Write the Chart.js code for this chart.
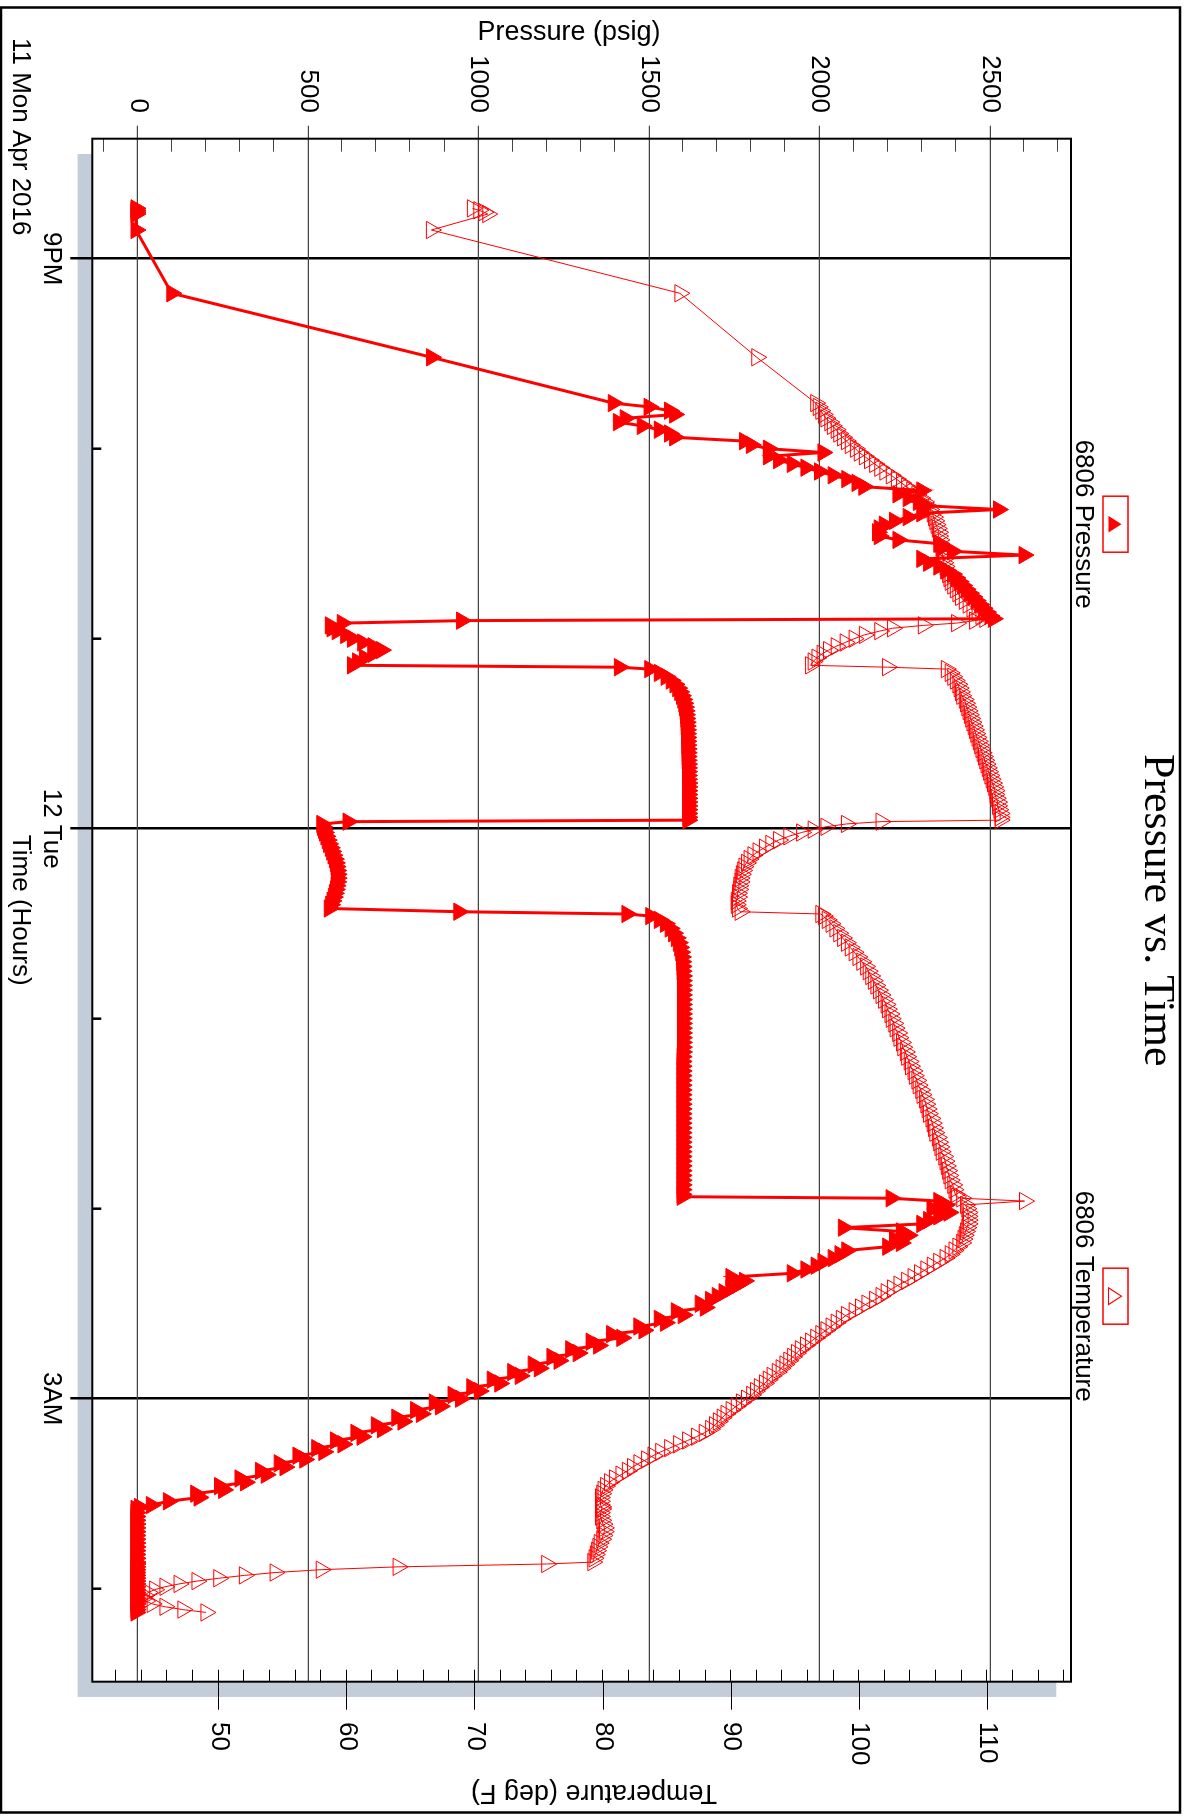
<!DOCTYPE html>
<html>
<head>
<meta charset="utf-8">
<script src="https://cdn.jsdelivr.net/npm/chart.js@4"></script>
<style>
html,body{margin:0;padding:0;background:#fff;overflow:hidden;width:1199px;height:1818px;}
#wrap{position:absolute;left:0;top:0;width:1818px;height:1199px;transform-origin:0 0;transform:translate(1199px,0) rotate(90deg);}
canvas{display:block;}
</style>
</head>
<body>
<div id="wrap"><canvas id="c" width="1818" height="1199"></canvas></div>
<script>
// ---------------- DATA (time in hours after midnight of Mon 11 Apr 2016; 24 = 12 Tue) ----------------
const timeHours = [
  // early readings
  20.735, 20.745, 20.755, 20.765, 20.849, 21.182, 21.519,
  // rise
  21.76, 21.78, 21.80, 21.82, 21.84, 21.86, 21.88, 21.90, 21.92, 21.94,
  21.96, 21.98, 22.00, 22.02, 22.04, 22.06, 22.08, 22.10, 22.12, 22.14,
  22.16, 22.18, 22.20, 22.22, 22.24, 22.26, 22.28, 22.30, 22.32, 22.34,
  22.36, 22.38, 22.40, 22.42, 22.44, 22.46, 22.48, 22.50, 22.52, 22.54,
  22.56, 22.58, 22.60, 22.62, 22.64, 22.66, 22.68, 22.70, 22.72, 22.74,
  22.76, 22.78, 22.80, 22.82, 22.84, 22.86, 22.88, 22.895,
  // first drop
  22.905, 22.918, 22.93, 22.945, 22.96, 22.98, 23.00, 23.02, 23.04, 23.06, 23.08, 23.10, 23.12, 23.14, 23.15,
  // first plateau
  23.16, 23.18, 23.20, 23.22, 23.24, 23.26, 23.28, 23.30, 23.32, 23.34,
  23.36, 23.38, 23.40, 23.42, 23.44, 23.46, 23.48, 23.50, 23.52, 23.54,
  23.56, 23.58, 23.60, 23.62, 23.64, 23.66, 23.68, 23.70, 23.72, 23.74,
  23.76, 23.78, 23.80, 23.82, 23.84, 23.86, 23.88, 23.90, 23.92, 23.94,
  23.955,
  // second drop
  23.963, 23.975, 23.99, 24.005, 24.02, 24.04, 24.06, 24.08, 24.10, 24.12,
  24.14, 24.16, 24.18, 24.20, 24.22, 24.24, 24.26, 24.28, 24.30, 24.32,
  24.34, 24.36, 24.38, 24.40, 24.42, 24.437, 24.449,
  // second plateau
  24.46, 24.48, 24.50, 24.525, 24.55, 24.575, 24.60, 24.625, 24.65, 24.675,
  24.70, 24.725, 24.75, 24.775, 24.80, 24.825, 24.85, 24.875, 24.90, 24.925,
  24.95, 24.975, 25.00, 25.025, 25.05, 25.075, 25.10, 25.125, 25.15, 25.175,
  25.20, 25.225, 25.25, 25.275, 25.30, 25.325, 25.35, 25.375, 25.40, 25.425,
  25.45, 25.475, 25.50, 25.525, 25.55, 25.575, 25.60, 25.625, 25.65, 25.675,
  25.70, 25.725, 25.75, 25.775, 25.80, 25.825, 25.85, 25.875, 25.90, 25.925,
  25.937,
  // bleed down
  25.945, 25.96, 25.98, 26.00, 26.02, 26.04, 26.06, 26.08, 26.10, 26.12,
  26.14, 26.16, 26.18, 26.20, 26.22, 26.24, 26.26, 26.28, 26.30, 26.32,
  26.34, 26.36, 26.38, 26.40, 26.42, 26.44, 26.46, 26.48, 26.50, 26.52,
  26.54, 26.56, 26.58, 26.60, 26.62, 26.64, 26.66, 26.68, 26.70, 26.72,
  26.74, 26.76, 26.78, 26.80, 26.82, 26.84, 26.86, 26.88, 26.90, 26.92,
  26.94, 26.96, 26.98, 27.00, 27.02, 27.04, 27.06, 27.08, 27.10, 27.12,
  27.14, 27.16, 27.18, 27.20, 27.22, 27.24, 27.26, 27.28, 27.30, 27.32,
  27.34, 27.36, 27.38, 27.40, 27.42, 27.44, 27.46, 27.48, 27.50, 27.52,
  27.54, 27.56, 27.57,
  // empty
  27.58, 27.60, 27.62, 27.64, 27.66, 27.68, 27.70, 27.72, 27.74, 27.76,
  27.78, 27.80, 27.82, 27.84, 27.86, 27.87, 27.885, 27.90, 27.915, 27.93,
  27.945, 27.96, 27.975, 27.99, 28.005, 28.02, 28.035, 28.05, 28.065, 28.08,
  28.095, 28.11, 28.125
];

const pressurePsig = [
  -5, -5, -5, -5, -5, 100, 862,
  1395, 1500, 1560, 1575, 1430, 1410, 1480, 1530, 1560, 1575,
  1780, 1800, 1850, 2010, 1850, 1880, 1920, 1960, 2000, 2040,
  2080, 2110, 2130, 2300, 2230, 2260, 2290, 2310, 2525, 2300,
  2260, 2220, 2190, 2175, 2170, 2175, 2230, 2350, 2360, 2390,
  2600, 2300, 2320, 2350, 2370, 2390, 2400, 2410, 2420, 2430,
  2440, 2450, 2460, 2470, 2480, 2490, 2500, 2510,
  950, 600, 565, 570, 585, 610, 630, 660, 690, 715, 690, 665, 645, 630, 1413,
  1502, 1530, 1550, 1565, 1576, 1584, 1590, 1595, 1599, 1602,
  1604, 1606, 1607, 1608, 1609, 1609, 1610, 1610, 1611, 1611,
  1611, 1612, 1612, 1612, 1612, 1613, 1613, 1613, 1613, 1613,
  1614, 1614, 1614, 1614, 1614, 1614, 1614, 1614, 1614, 1614,
  1614,
  617, 540, 542, 545, 548, 552, 556, 560, 565, 569,
  573, 577, 580, 582, 584, 585, 585, 584, 582, 580,
  577, 574, 570, 566, 562, 942, 1435,
  1505, 1530, 1548, 1562, 1572, 1580, 1586, 1590, 1593, 1595,
  1596, 1597, 1597, 1598, 1598, 1598, 1598, 1598, 1598, 1598,
  1598, 1598, 1598, 1598, 1598, 1598, 1598, 1598, 1598, 1598,
  1597, 1597, 1597, 1597, 1597, 1597, 1597, 1597, 1597, 1597,
  1597, 1597, 1597, 1597, 1597, 1597, 1597, 1597, 1597, 1597,
  1597, 1597, 1597, 1597, 1597, 1597, 1597, 1597, 1597, 1597,
  1597,
  2210, 2350, 2370, 2330, 2380, 2350, 2320, 2300, 2070, 2240,
  2260, 2220, 2240, 2200, 2080, 2060, 2040, 2010, 1990, 1960,
  1920, 1740, 1780, 1760, 1740, 1720, 1700, 1680, 1650, 1665,
  1580, 1600, 1530, 1548, 1470, 1485, 1390, 1420, 1330, 1352,
  1270, 1292, 1215, 1236, 1160, 1178, 1100, 1122, 1040, 1062,
  980, 1002, 925, 947, 870, 888, 815, 832, 760, 778,
  700, 718, 640, 658, 580, 602, 525, 546, 470, 490,
  415, 432, 360, 377, 300, 316, 240, 252, 170, 180,
  90, 40, 5,
  -5, -5, -5, -5, -5, -5, -5, -5, -5, -5,
  -5, -5, -5, -5, -5, -5, -5, -5, -5, -5,
  -5, -5, -5, -5, -5, -5, -5, -5, -5, -5,
  -5, -5, -5
];

const temperatureF = [
  69.8, 70.3, 70.7, 71.0, 66.6, 86.0, 92.0,
  96.6, 96.8, 97.0, 97.2, 97.4, 97.7, 97.9, 98.2, 98.4, 98.7,
  99.0, 99.3, 99.7, 100.0, 100.4, 100.8, 101.2, 101.6, 102.0, 102.5,
  102.9, 103.3, 103.7, 104.1, 104.5, 104.8, 105.1, 105.3, 105.5, 105.7,
  105.8, 105.9, 106.0, 106.1, 106.2, 106.2, 106.3, 106.3, 106.4, 106.4,
  106.5, 106.6, 106.6, 106.7, 106.8, 106.9, 107.0, 107.1, 107.3, 107.5,
  107.7, 107.9, 108.2, 108.5, 108.8, 109.2, 109.5, 109.8,
  109.0, 107.6, 105.0, 102.6, 101.6, 100.4, 99.6, 98.9, 98.2, 97.6, 97.1, 96.7, 96.4, 96.2, 102.2,
  106.8, 107.1, 107.3, 107.5, 107.7, 107.8, 107.9, 108.0, 108.2, 108.3,
  108.4, 108.5, 108.6, 108.7, 108.8, 108.9, 109.0, 109.1, 109.2, 109.3,
  109.4, 109.5, 109.6, 109.7, 109.8, 109.9, 110.0, 110.1, 110.2, 110.3,
  110.4, 110.5, 110.6, 110.6, 110.7, 110.8, 110.8, 110.9, 111.0, 111.0,
  111.0,
  101.7, 99.0, 97.4, 96.4, 95.5, 94.5, 93.7, 93.1, 92.6, 92.1,
  91.7, 91.4, 91.2, 91.0, 90.9, 90.8, 90.7, 90.7, 90.6, 90.6,
  90.5, 90.5, 90.4, 90.4, 90.5, 90.7, 97.0,
  97.2, 97.5, 97.8, 98.1, 98.4, 98.7, 99.0, 99.3, 99.6, 99.9,
  100.2, 100.5, 100.7, 100.9, 101.1, 101.3, 101.5, 101.7, 101.9, 102.1,
  102.2, 102.4, 102.5, 102.7, 102.8, 103.0, 103.1, 103.3, 103.4, 103.6,
  103.7, 103.9, 104.0, 104.2, 104.3, 104.5, 104.6, 104.8, 104.9, 105.1,
  105.2, 105.3, 105.4, 105.6, 105.7, 105.8, 105.9, 106.1, 106.2, 106.3,
  106.4, 106.6, 106.7, 106.8, 106.9, 107.0, 107.1, 107.3, 107.4, 107.5,
  107.6,
  108.0, 112.9, 108.3, 108.4, 108.5, 108.5, 108.5, 108.5, 108.4, 108.3,
  108.2, 108.1, 108.0, 107.7, 107.4, 107.1, 106.7, 106.2, 105.7, 105.2,
  104.7, 104.2, 103.7, 103.1, 102.6, 102.1, 101.7, 101.2, 100.6, 100.1,
  99.6, 99.0, 98.6, 98.2, 97.8, 97.4, 97.0, 96.6, 96.2, 95.8,
  95.4, 95.1, 94.8, 94.5, 94.2, 93.9, 93.6, 93.2, 92.9, 92.6,
  92.2, 91.9, 91.6, 91.2, 90.8, 90.4, 90.0, 89.6, 89.3, 89.0,
  88.7, 88.4, 87.9, 87.3, 86.6, 85.9, 85.2, 84.5, 83.9, 83.4,
  82.8, 82.3, 81.9, 81.4, 80.9, 80.5, 80.2, 80.0, 79.9, 79.8,
  79.8, 79.8, 79.9,
  79.9, 79.8, 79.8, 79.9, 80.0, 80.1, 80.1, 80.0, 79.9, 79.7,
  79.6, 79.5, 79.4, 79.3, 79.2, 75.6, 64.0, 58.0, 54.4, 52.0,
  50.0, 48.3, 46.9, 45.8, 45.0, 44.5, 44.2, 44.1, 44.3, 44.8,
  45.8, 47.2, 49.0
];

const seriesNames = ['6806 Pressure', '6806 Temperature'];
const timeTicks = [21, 24, 27];
const timeTickLabels = ['9PM', '12 Tue', '3AM'];
const timeMinorTicks = [22, 23, 25, 26, 28];
const pressureTicks = [0, 500, 1000, 1500, 2000, 2500];
const pressureTickLabels = ['0', '500', '1000', '1500', '2000', '2500'];
const temperatureTicks = [50, 60, 70, 80, 90, 100, 110];
const temperatureTickLabels = ['50', '60', '70', '80', '90', '100', '110'];
const chartTitle = 'Pressure vs. Time';
const pressureAxisTitle = 'Pressure (psig)';
const temperatureAxisTitle = 'Temperature (deg F)';
const timeAxisTitle = 'Time (Hours)';
const dateLabel = '11 Mon Apr 2016';

if (timeHours.length !== pressurePsig.length || timeHours.length !== temperatureF.length) {
  console.error('length mismatch', timeHours.length, pressurePsig.length, temperatureF.length);
}

// ---------------- CHART ----------------
const SANS = '"Liberation Sans", Arial, Helvetica, sans-serif';
const SERIF = '"Liberation Serif", "Times New Roman", serif';
Chart.defaults.font.family = SANS;
Chart.defaults.color = '#000';

const RED = '#ff0000';

const decor = {
  id: 'decor',
  beforeDraw(chart) {
    const c = chart.ctx, a = chart.chartArea;
    c.save();
    c.fillStyle = '#fff';
    c.fillRect(0, 0, chart.width, chart.height);
    // outer frame
    c.strokeStyle = '#000';
    c.lineWidth = 2.5;
    c.strokeRect(7.5, 19, 1805, 1179);
    // drop shadow of plot box
    c.fillStyle = '#c2cdd9';
    c.fillRect(a.left + 15.3, a.top + 14.7, a.right - a.left, a.bottom - a.top);
    c.fillStyle = '#fff';
    c.fillRect(a.left, a.top, a.right - a.left, a.bottom - a.top);
    c.restore();
  },
  beforeDatasetsDraw(chart) {
    const c = chart.ctx, a = chart.chartArea;
    const xs = chart.scales.x, yp = chart.scales.yP, yt = chart.scales.yT;
    c.save();
    // pressure minor ticks (every 100 psig) inside left edge
    c.strokeStyle = '#444';
    c.lineWidth = 1;
    c.beginPath();
    for (let v = -100; v <= 2700; v += 100) {
      if (v % 500 === 0) continue;
      const y = Math.round(yp.getPixelForValue(v)) + 0.5;
      c.moveTo(a.left, y); c.lineTo(a.left + 13, y);
    }
    c.stroke();
    // temperature ticks (every 2 F) inside right edge
    c.strokeStyle = '#000';
    c.beginPath();
    for (let v = 42; v <= 116; v += 2) {
      const y = Math.round(yt.getPixelForValue(v)) + 0.5;
      c.moveTo(a.right - 12, y); c.lineTo(a.right, y);
    }
    c.stroke();
    // hourly minor time ticks inside bottom edge
    c.lineWidth = 2.5;
    c.beginPath();
    for (const h of timeMinorTicks) {
      const x = xs.getPixelForValue(h);
      c.moveTo(x, a.bottom); c.lineTo(x, a.bottom - 9);
    }
    c.stroke();
    // plot border
    c.lineWidth = 2;
    c.strokeRect(a.left, a.top, a.right - a.left, a.bottom - a.top);
    c.restore();
  },
  afterDraw(chart) {
    const c = chart.ctx, a = chart.chartArea;
    const cx = (a.left + a.right) / 2;
    c.save();
    c.fillStyle = '#000';
    c.textAlign = 'center';
    c.textBaseline = 'alphabetic';
    // title
    c.font = '44px ' + SERIF;
    c.fillText(chartTitle, cx, 54);
    // legend
    const items = [
      { label: seriesNames[0], u: cx - 386, filled: true },
      { label: seriesNames[1], u: cx + 386, filled: false }
    ];
    for (const it of items) {
      c.strokeStyle = RED;
      c.lineWidth = 1.5;
      c.strokeRect(it.u - 28, 71, 56, 25);
      c.beginPath();
      c.moveTo(it.u, 77.5);
      c.lineTo(it.u + 8.3, 90.5);
      c.lineTo(it.u - 8.3, 90.5);
      c.closePath();
      if (it.filled) { c.fillStyle = RED; c.fill(); }
      else { c.lineWidth = 1.2; c.stroke(); }
      c.fillStyle = '#000';
      c.font = '26px ' + SANS;
      c.fillText(it.label, it.u, 122.5);
    }
    // axis titles
    c.font = '27px ' + SANS;
    c.save();
    c.translate(39.5, 630);
    c.rotate(-Math.PI / 2);
    c.fillText(pressureAxisTitle, 0, 0);
    c.restore();
    c.save();
    c.translate(1785, 605);
    c.rotate(Math.PI / 2);
    c.fillText(temperatureAxisTitle, 0, 0);
    c.restore();
    c.font = '26px ' + SANS;
    c.fillText(timeAxisTitle, cx, 1186);
    c.fillText(dateLabel, a.left - 2, 1186);
    c.restore();
  }
};

const toPoints = (ys) => timeHours.map((t, i) => ({ x: t, y: ys[i] }));

new Chart(document.getElementById('c'), {
  type: 'line',
  data: {
    datasets: [
      {
        label: seriesNames[0],
        data: toPoints(pressurePsig),
        yAxisID: 'yP',
        borderColor: RED,
        borderWidth: 3,
        tension: 0,
        pointStyle: 'triangle',
        pointRadius: 10,
        pointBackgroundColor: RED,
        pointBorderColor: RED,
        pointBorderWidth: 1
      },
      {
        label: seriesNames[1],
        data: toPoints(temperatureF),
        yAxisID: 'yT',
        borderColor: RED,
        borderWidth: 1,
        tension: 0,
        pointStyle: 'triangle',
        pointRadius: 10,
        pointBackgroundColor: 'rgba(255,255,255,0)',
        pointBorderColor: RED,
        pointBorderWidth: 1
      }
    ]
  },
  options: {
    responsive: false,
    animation: false,
    devicePixelRatio: 1,
    events: [],
    layout: { padding: { left: 0, right: 0, top: 128, bottom: 0 } },
    plugins: { legend: { display: false }, title: { display: false }, tooltip: { enabled: false } },
    scales: {
      x: {
        type: 'linear',
        position: 'bottom',
        min: 20.3684,
        max: 28.4895,
        afterBuildTicks: (s) => { s.ticks = timeTicks.map(v => ({ value: v })); },
        afterFit: (s) => { s.height = 92.3; },
        ticks: {
          callback: (v) => { const i = timeTicks.indexOf(v); return i >= 0 ? timeTickLabels[i] : ''; },
          font: { size: 26 },
          color: '#000',
          padding: 4,
          maxRotation: 0,
          autoSkip: false
        },
        grid: { color: '#000', lineWidth: 2.5, tickLength: 22, drawOnChartArea: true },
        border: { display: false }
      },
      yP: {
        type: 'linear',
        position: 'left',
        min: -133.2,
        max: 2737.7,
        afterBuildTicks: (s) => { s.ticks = pressureTicks.map(v => ({ value: v })); },
        afterFit: (s) => { s.width = 138.7; },
        ticks: {
          callback: (v) => { const i = pressureTicks.indexOf(v); return i >= 0 ? pressureTickLabels[i] : ''; },
          font: { size: 26 },
          color: '#000',
          padding: 12.7
        },
        grid: { color: '#444', lineWidth: 1.2, tickLength: 13 },
        border: { display: false }
      },
      yT: {
        type: 'linear',
        position: 'right',
        min: 40.13,
        max: 116.53,
        afterBuildTicks: (s) => { s.ticks = temperatureTicks.map(v => ({ value: v })); },
        afterFit: (s) => { s.width = 136.3; },
        ticks: {
          callback: (v) => { const i = temperatureTicks.indexOf(v); return i >= 0 ? temperatureTickLabels[i] : ''; },
          font: { size: 26 },
          color: '#000',
          padding: 12.3
        },
        grid: { drawOnChartArea: false, color: '#000', lineWidth: 1, tickLength: 28 },
        border: { display: false }
      }
    }
  },
  plugins: [decor]
});
</script>
</body>
</html>
